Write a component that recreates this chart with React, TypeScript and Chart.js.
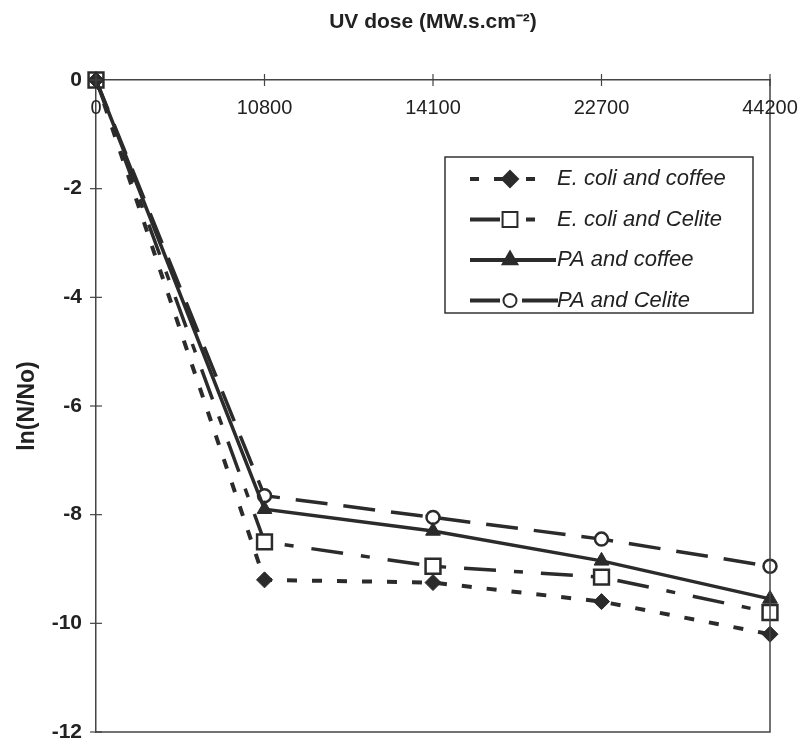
import React, { useEffect, useRef } from "react";
import { Chart, registerables } from "chart.js";

Chart.register(...registerables);

const doseLabels = ["0", "10800", "14100", "22700", "44200"];
const ecoliCoffee = [0, -9.2, -9.25, -9.6, -10.2];
const ecoliCelite = [0, -8.5, -8.95, -9.15, -9.8];
const paCoffee = [0, -7.9, -8.3, -8.85, -9.55];
const paCelite = [0, -7.65, -8.05, -8.45, -8.95];
const seriesNames = ["E. coli and coffee", "E. coli and Celite", "PA and coffee", "PA and Celite"];
const yTicks = [0, -2, -4, -6, -8, -10, -12];

const INK = "#2b2b2b";
const FONT = "'Liberation Sans', Arial, sans-serif";

// legend line pieces (relative x ranges) for each series
const legendSegments: number[][][] = [
  [[0, 9], [24, 36], [56, 65]],
  [[0, 30], [56, 65]],
  [[0, 86]],
  [[0, 30], [52, 88]],
];

function drawMarker(ctx: CanvasRenderingContext2D, style: string, x: number, y: number, r: number, fill: string) {
  ctx.save();
  ctx.setLineDash([]);
  ctx.strokeStyle = INK;
  ctx.fillStyle = fill;
  ctx.lineWidth = 2;
  ctx.beginPath();
  if (style === "rectRot") {
    ctx.moveTo(x, y - r);
    ctx.lineTo(x + r, y);
    ctx.lineTo(x, y + r);
    ctx.lineTo(x - r, y);
    ctx.closePath();
  } else if (style === "rect") {
    const s = r * Math.SQRT1_2;
    ctx.rect(x - s, y - s, 2 * s, 2 * s);
  } else if (style === "triangle") {
    ctx.moveTo(x, y - r);
    ctx.lineTo(x + r * 0.866, y + r * 0.5);
    ctx.lineTo(x - r * 0.866, y + r * 0.5);
    ctx.closePath();
  } else {
    ctx.arc(x, y, r, 0, Math.PI * 2);
  }
  ctx.fill();
  ctx.stroke();
  ctx.restore();
}

const decorPlugin = {
  id: "decor",
  afterDraw(chart: any) {
    const ctx: CanvasRenderingContext2D = chart.ctx;
    const { left, right, top, bottom } = chart.chartArea;
    const xs = chart.scales.x;
    ctx.save();
    ctx.strokeStyle = "#444";
    ctx.lineWidth = 1.5;
    ctx.setLineDash([]);
    ctx.beginPath();
    ctx.moveTo(right, top);
    ctx.lineTo(right, bottom);
    ctx.lineTo(left, bottom);
    ctx.stroke();
    ctx.lineWidth = 1.2;
    doseLabels.forEach((_, i) => {
      const px = xs.getPixelForValue(i);
      ctx.beginPath();
      ctx.moveTo(px, top - 6);
      ctx.lineTo(px, top + 6);
      ctx.stroke();
    });
    const ys = chart.scales.y;
    yTicks.forEach((v) => {
      const py = ys.getPixelForValue(v);
      ctx.beginPath();
      ctx.moveTo(left - 6, py);
      ctx.lineTo(left + 6, py);
      ctx.stroke();
    });
    ctx.fillStyle = "#222";
    ctx.font = `20px ${FONT}`;
    ctx.textAlign = "center";
    ctx.textBaseline = "middle";
    doseLabels.forEach((lab, i) => {
      ctx.fillText(lab, xs.getPixelForValue(i), top + 28);
    });
    // legend
    const bx = 445, by = 157, bw = 308, bh = 156;
    ctx.fillStyle = "#fff";
    ctx.fillRect(bx, by, bw, bh);
    ctx.strokeStyle = "#333";
    ctx.lineWidth = 1.5;
    ctx.strokeRect(bx, by, bw, bh);
    chart.data.datasets.forEach((ds: any, i: number) => {
      const y = by + 22 + i * 40.5;
      ctx.save();
      ctx.strokeStyle = INK;
      ctx.lineWidth = 4;
      ctx.setLineDash([]);
      legendSegments[i].forEach(([a, b]) => {
        ctx.beginPath();
        ctx.moveTo(470 + a, y);
        ctx.lineTo(470 + b, y);
        ctx.stroke();
      });
      ctx.restore();
      drawMarker(ctx, ds.pointStyle, 510, y, ds.pointRadius, ds.pointBackgroundColor);
      ctx.fillStyle = "#222";
      ctx.font = `italic 22px ${FONT}`;
      ctx.textAlign = "left";
      ctx.textBaseline = "middle";
      ctx.fillText(ds.label, 557, y);
    });
    ctx.restore();
  },
};

export default function App() {
  const ref = useRef<HTMLCanvasElement>(null);
  useEffect(() => {
    document.body.style.margin = "0";
    const canvas = ref.current;
    if (!canvas) return;
    const chart = new Chart(canvas, {
      type: "line",
      data: {
        labels: doseLabels,
        datasets: [
          {
            label: seriesNames[0],
            data: ecoliCoffee,
            borderColor: INK,
            borderWidth: 4,
            borderDash: [10, 15],
            pointStyle: "rectRot",
            pointRadius: 8,
            pointBackgroundColor: INK,
            pointBorderColor: INK,
            pointBorderWidth: 1,
          } as any,
          {
            label: seriesNames[1],
            data: ecoliCelite,
            borderColor: INK,
            borderWidth: 3.5,
            borderDash: [32, 18, 9, 18],
            pointStyle: "rect",
            pointRadius: 10.5,
            pointBackgroundColor: "#fff",
            pointBorderColor: INK,
            pointBorderWidth: 2.5,
          } as any,
          {
            label: seriesNames[2],
            data: paCoffee,
            borderColor: INK,
            borderWidth: 3.5,
            borderDash: [],
            pointStyle: "triangle",
            pointRadius: 8.5,
            pointBackgroundColor: INK,
            pointBorderColor: INK,
            pointBorderWidth: 1,
          } as any,
          {
            label: seriesNames[3],
            data: paCelite,
            borderColor: INK,
            borderWidth: 3.5,
            borderDash: [32, 16],
            pointStyle: "circle",
            pointRadius: 6.5,
            pointBackgroundColor: "#fff",
            pointBorderColor: INK,
            pointBorderWidth: 2.5,
          } as any,
        ],
      },
      options: {
        responsive: false,
        animation: false,
        clip: false as any,
        layout: { padding: { left: 0, top: 0, right: 32, bottom: 14 } },
        plugins: { legend: { display: false }, tooltip: { enabled: false } },
        scales: {
          x: {
            type: "category",
            position: "top",
            offset: false,
            grid: { display: false, drawTicks: false },
            border: { display: true, color: "#444", width: 1.5 },
            ticks: { display: false },
            title: {
              display: true,
              text: "UV dose (MW.s.cm\u207B\u00B2)",
              color: "#222",
              font: { family: FONT, size: 21, weight: "bold" },
              padding: { top: 10, bottom: 0 },
            },
            afterFit: (s: any) => {
              s.height = 80;
              s.paddingLeft = 0;
              s.paddingRight = 0;
            },
          },
          y: {
            min: -12,
            max: 0,
            grid: { display: false, drawTicks: false },
            border: { display: true, color: "#444", width: 1.5 },
            ticks: {
              stepSize: 2,
              padding: 14,
              color: "#222",
              font: { family: FONT, size: 21, weight: "bold" },
            },
            title: {
              display: true,
              text: "ln(N/No)",
              color: "#222",
              font: { family: FONT, size: 23, weight: "bold" },
              padding: { top: 14, bottom: 0 },
            },
            afterFit: (s: any) => {
              s.width = 96;
              s.paddingTop = 0;
              s.paddingBottom = 0;
            },
          },
        },
      },
      plugins: [decorPlugin],
    });
    return () => chart.destroy();
  }, []);
  return (
    <div style={{ width: 802, height: 746 }}>
      <canvas ref={ref} width={802} height={746} style={{ display: "block" }} />
    </div>
  );
}
